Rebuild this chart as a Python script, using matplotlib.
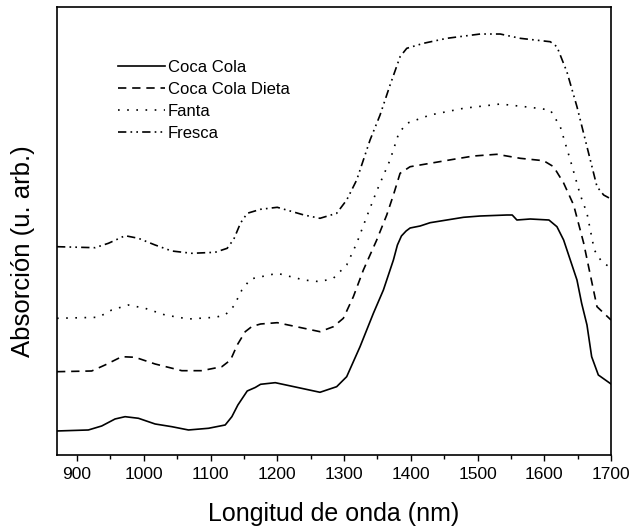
import numpy as np
import matplotlib
matplotlib.use("Agg")
import matplotlib.pyplot as plt
from matplotlib.ticker import MultipleLocator

plt.rcParams["font.family"] = ["Liberation Sans", "DejaVu Sans"]

# valores (unidades arbitrarias)
wl_coca = [870, 917, 937, 957, 972, 992, 1017, 1042, 1067, 1097, 1122, 1132, 1141, 1155,
           1167, 1175, 1197, 1225, 1264, 1289, 1304, 1324, 1344, 1359, 1374, 1380, 1386,
           1393, 1399, 1414, 1429, 1454, 1479, 1504, 1544, 1552, 1559, 1579, 1607, 1619, 1629,
           1639, 1649, 1656, 1664, 1671, 1681, 1700]
abs_coca = [24, 25, 29, 36, 38.3, 36.7, 31, 28.3, 25, 26.7, 30, 38.3, 50, 64,
            67.5, 70.7, 72.3, 68.3, 62.7, 68.3, 78.3, 108.3, 141.7, 165, 195, 210, 219,
            224, 227, 229, 232.3, 235, 237.7, 239, 240, 240, 235, 236, 235, 228.3, 215,
            195, 175, 151.7, 130, 98.3, 80, 71]

wl_dieta = [870, 922, 942, 967, 987, 1017, 1057, 1087, 1117, 1130, 1140, 1152, 1162, 1175,
            1200, 1240, 1264, 1284, 1299, 1314, 1329, 1349, 1364, 1374, 1384, 1399, 1429,
            1464, 1494, 1529, 1564, 1599, 1614, 1629, 1644, 1659, 1669, 1679, 1700]
abs_dieta = [83.3, 84, 90, 98.3, 97.7, 91, 84.3, 84.3, 88.3, 95, 110, 123.3, 128.5, 131,
             132.3, 126.7, 123.3, 128.3, 136.7, 158.3, 185, 215, 240, 260, 281.7, 288.3, 291.7,
             295.7, 299, 300.7, 296.7, 294.3, 288.3, 272, 250, 212, 180, 148.3, 135]

wl_fanta = [870, 932, 952, 977, 1002, 1032, 1067, 1107, 1122, 1135, 1147, 1160, 1200, 1240,
            1264, 1284, 1304, 1319, 1334, 1349, 1369, 1382, 1394, 1429, 1479, 1534, 1579,
            1609, 1624, 1639, 1654, 1664, 1675, 1686, 1700]
abs_fanta = [136.7, 137.7, 145, 150, 146.7, 140, 136, 137.7, 140, 149, 165, 176, 181.7, 175,
             173.3, 176.7, 190, 211.7, 238.3, 264, 295, 321.7, 331.7, 340, 346.7, 351, 347.7,
             345, 328.3, 295, 260, 241.7, 205, 193.3, 187]

wl_fresca = [870, 927, 947, 972, 992, 1017, 1042, 1072, 1107, 1125, 1135, 1145, 1155, 1175,
             1200, 1240, 1264, 1289, 1304, 1319, 1339, 1354, 1369, 1384, 1394, 1419, 1454,
             1504, 1534, 1564, 1609, 1619, 1634, 1649, 1664, 1679, 1689, 1700]
abs_fresca = [208.3, 207.3, 211.7, 219.3, 216.7, 210, 204, 201.7, 202.7, 206.7, 216, 232, 241.7, 245.7,
              247.7, 240, 236.7, 241.7, 255, 275, 315, 340, 370, 398.3, 406.7, 411.7, 416.7,
              421, 421, 416.7, 413.3, 408.3, 383, 348.3, 308.3, 268.3, 260, 256]

fig = plt.figure(figsize=(6.29, 5.28), dpi=100)
ax = fig.add_axes([0.0906, 0.1383, 0.8808, 0.8484])

lw = 1.2
ax.plot(wl_coca, abs_coca, color="black", lw=lw, ls="-", label="Coca Cola")
ax.plot(wl_dieta, abs_dieta, color="black", lw=lw, ls=(0, (5, 3.5)), label="Coca Cola Dieta")
ax.plot(wl_fanta, abs_fanta, color="black", lw=lw, ls=(0, (1, 4.5)), label="Fanta")
ax.plot(wl_fresca, abs_fresca, color="black", lw=lw, ls=(0, (5, 2.5, 1, 2.5, 1, 2.5)), label="Fresca")

ax.set_xlim(870, 1700)
ax.set_ylim(0, 448)
ax.xaxis.set_major_locator(MultipleLocator(100))
ax.xaxis.set_minor_locator(MultipleLocator(50))
ax.tick_params(axis="x", which="major", direction="out", length=4, width=1, labelsize=12.5, pad=5)
ax.tick_params(axis="x", which="minor", direction="out", length=3, width=1)
ax.set_yticks([])
for s in ax.spines.values():
    s.set_linewidth(1.2)

ax.set_xlabel("Longitud de onda (nm)", fontsize=18)
ax.set_ylabel("Absorción (u. arb.)", fontsize=18.5)
ax.xaxis.set_label_coords(0.5, -0.105)
ax.yaxis.set_label_coords(-0.04, 0.454)

ax.legend(loc="upper left", bbox_to_anchor=(0.095, 0.9), frameon=False, fontsize=12,
          handlelength=2.8, handletextpad=0.2, labelspacing=0.42, borderpad=0)

plt.savefig("out.png", dpi=100)
